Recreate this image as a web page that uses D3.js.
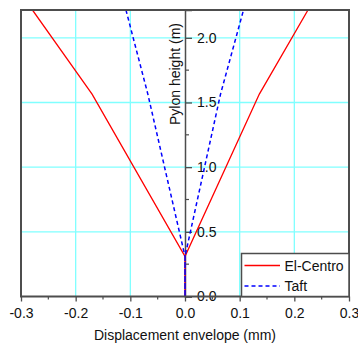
<!DOCTYPE html>
<html>
<head>
<meta charset="utf-8">
<script src="https://cdn.jsdelivr.net/npm/d3@7"></script>
<style>
  html, body { margin: 0; padding: 0; background: #fff; }
  svg { display: block; font-family: "Liberation Sans", Arial, sans-serif; }
</style>
</head>
<body>
<svg id="chart" width="358" height="345"></svg>
<script>
// ---- data ----
const heights       = [0.0, 0.31, 1.565, 2.215];
const elCentroMin   = [0.0, 0.0, -0.170, -0.279];
const elCentroMax   = [0.0, 0.0,  0.136,  0.225];
const taftMin       = [0.0, 0.0, -0.068, -0.108];
const taftMax       = [0.0, 0.0,  0.065,  0.107];
const seriesNames   = ["El-Centro", "Taft"];
const xTicks        = [-0.3, -0.2, -0.1, 0.0, 0.1, 0.2, 0.3];
const xMinorTicks   = [-0.25, -0.15, -0.05, 0.05, 0.15, 0.25];
const yTicks        = [0.0, 0.5, 1.0, 1.5, 2.0];
const yMinorTicks   = [0.25, 0.75, 1.25, 1.75];
const xGrid         = [-0.2, -0.1, 0.1, 0.2];
const yGrid         = [0.5, 1.0, 1.5, 2.0];

// ---- layout ----
const svg = d3.select("#chart");
const L = 21, R = 349, T = 10, B = 296.5;
const x = d3.scaleLinear().domain([-0.3, 0.3]).range([L, R]);
const y = d3.scaleLinear().domain([0, 2.215]).range([B, T]);
const gridColor = "#80ffff";
const axisColor = "#4d4d4d";
const fmt = d => d.toFixed(1);

svg.append("defs").append("clipPath").attr("id", "clip")
  .append("rect").attr("x", L).attr("y", T).attr("width", R - L).attr("height", B - T);

// gridlines
svg.append("g").selectAll("line").data(xGrid).join("line")
  .attr("x1", d => x(d)).attr("x2", d => x(d)).attr("y1", T).attr("y2", B)
  .attr("stroke", gridColor).attr("stroke-width", 1.3);
svg.append("g").selectAll("line").data(yGrid).join("line")
  .attr("x1", L).attr("x2", R).attr("y1", d => y(d)).attr("y2", d => y(d))
  .attr("stroke", gridColor).attr("stroke-width", 1.3);

// y axis line at x = 0
const yAxisG = svg.append("g").attr("transform", `translate(${x(0)},0)`);
yAxisG.call(d3.axisRight(y).tickValues(yTicks).tickFormat(fmt).tickSize(7).tickPadding(5))
  .call(g => g.select(".domain").attr("stroke", axisColor).attr("stroke-width", 1.5))
  .call(g => g.selectAll(".tick line").attr("stroke", axisColor).attr("stroke-width", 1.3))
  .call(g => g.selectAll(".tick text").attr("font-size", 14).attr("fill", "#111")
              .attr("font-family", "Liberation Sans, Arial, sans-serif"));
yAxisG.append("g").selectAll("line").data(yMinorTicks).join("line")
  .attr("x1", 0).attr("x2", 4).attr("y1", d => y(d)).attr("y2", d => y(d))
  .attr("stroke", axisColor).attr("stroke-width", 1.2);

// data lines
function pathPoints(minArr, maxArr) {
  const pts = [];
  for (let i = heights.length - 1; i >= 0; i--) pts.push([minArr[i], heights[i]]);
  for (let i = 1; i < heights.length; i++) pts.push([maxArr[i], heights[i]]);
  return pts;
}
const line = d3.line().x(d => x(d[0])).y(d => y(d[1]));
const dataG = svg.append("g").attr("clip-path", "url(#clip)");
dataG.append("path").attr("d", line(pathPoints(elCentroMin, elCentroMax)))
  .attr("fill", "none").attr("stroke", "#ff0000").attr("stroke-width", 1.3);
dataG.append("path").attr("d", line(pathPoints(taftMin, taftMax)))
  .attr("fill", "none").attr("stroke", "#0000ff").attr("stroke-width", 1.5)
  .attr("stroke-dasharray", "4,3");

// frame
svg.append("rect").attr("x", L).attr("y", T).attr("width", R - L).attr("height", B - T)
  .attr("fill", "none").attr("stroke", axisColor).attr("stroke-width", 2);

// bottom axis
const xAxisG = svg.append("g").attr("transform", `translate(0,${B})`);
xAxisG.call(d3.axisBottom(x).tickValues(xTicks).tickFormat(fmt).tickSize(5).tickPadding(7))
  .call(g => g.select(".domain").remove())
  .call(g => g.selectAll(".tick line").attr("stroke", axisColor).attr("stroke-width", 1.3))
  .call(g => g.selectAll(".tick text").attr("font-size", 14).attr("fill", "#111")
              .attr("font-family", "Liberation Sans, Arial, sans-serif"));
xAxisG.append("g").selectAll("line").data(xMinorTicks).join("line")
  .attr("x1", d => x(d)).attr("x2", d => x(d)).attr("y1", 0).attr("y2", 3)
  .attr("stroke", axisColor).attr("stroke-width", 1.2);

// axis titles
svg.append("text").attr("x", x(0)).attr("y", 340).attr("text-anchor", "middle")
  .attr("font-size", 14).attr("fill", "#111").text("Displacement envelope (mm)");
svg.append("text").attr("transform", `translate(180,74) rotate(-90)`).attr("text-anchor", "middle")
  .attr("font-size", 14).attr("fill", "#111").text("Pylon height (m)");

// legend
const lg = svg.append("g");
lg.append("rect").attr("x", 241.5).attr("y", 253.5).attr("width", R - 241.5).attr("height", B - 253.5)
  .attr("fill", "#fff").attr("stroke", axisColor).attr("stroke-width", 1.5);
const legendStyles = [
  { color: "#ff0000", dash: null, w: 1.3 },
  { color: "#0000ff", dash: "4,3", w: 1.5 }
];
seriesNames.forEach((name, i) => {
  const yy = 265.5 + i * 20.5;
  lg.append("line").attr("x1", 244.5).attr("x2", 280).attr("y1", yy).attr("y2", yy)
    .attr("stroke", legendStyles[i].color).attr("stroke-width", legendStyles[i].w)
    .attr("stroke-dasharray", legendStyles[i].dash);
  lg.append("text").attr("x", 284.5).attr("y", yy + 5).attr("font-size", 14).attr("fill", "#111").text(name);
});
</script>
</body>
</html>
